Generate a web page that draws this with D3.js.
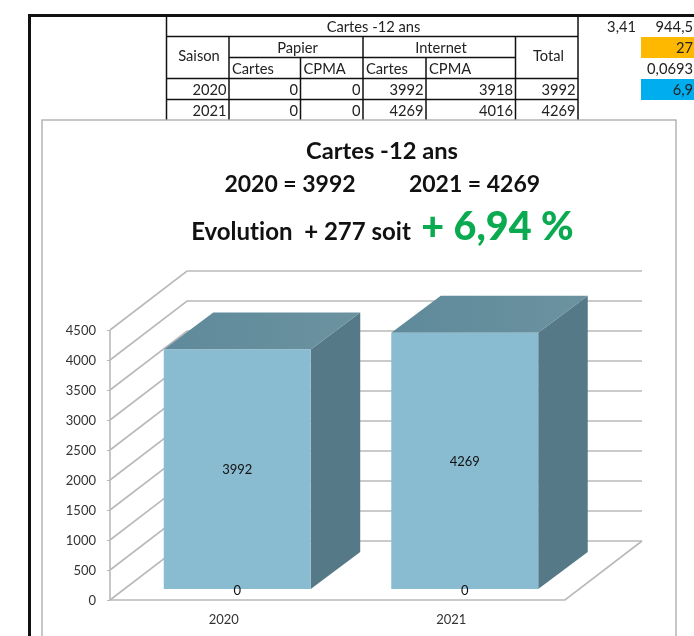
<!DOCTYPE html>
<html><head><meta charset="utf-8">
<script src="https://cdn.jsdelivr.net/npm/d3@7"></script>
<style>
html,body{margin:0;padding:0;background:#fff;overflow:hidden}
svg{display:block;filter:blur(0.45px)}
text{font-family:Lato,"Open Sans",sans-serif;font-variant-ligatures:none;white-space:pre}
</style></head><body>
<script>
const years = ["2020", "2021"];
const totals = [3992, 4269];
const zeroSeries = [0, 0];
const yTicks = [0, 500, 1000, 1500, 2000, 2500, 3000, 3500, 4000, 4500];
const tableRows = [
  ["2020", 0, 0, 3992, 3918, 3992],
  ["2021", 0, 0, 4269, 4016, 4269]
];
const sideValues = ["3,41", "944,5", "27", "0,0693", "6,9"];

const W = 694, H = 636;
const svg = d3.select("body").append("svg").attr("width", W).attr("height", H);

// ---- sheet frame & table
const black = "#111";
const colX = [166.5, 229, 300.5, 363, 426, 515.5, 578];
const rowY = [15.5, 36.5, 57.5, 78.5, 99.5, 120.5];
const line = (x1, y1, x2, y2, c = black, w = 1.5) => svg.append("line")
  .attr("x1", x1).attr("y1", y1).attr("x2", x2).attr("y2", y2).attr("stroke", c).attr("stroke-width", w);
const txt = (s, x, y, size, anchor = "middle", fill = "#222", weight = 400) => svg.append("text")
  .attr("x", x).attr("y", y).attr("font-size", size).attr("text-anchor", anchor)
  .attr("fill", fill).attr("font-weight", weight).text(s);

svg.append("rect").attr("x", 641).attr("y", 37).attr("width", 53).attr("height", 21).attr("fill", "#FFB800");
svg.append("rect").attr("x", 641).attr("y", 79).attr("width", 53).attr("height", 21).attr("fill", "#00AEEF");

line(28, 15.5, 694, 15.5, black, 2.8);
line(29.5, 14.5, 29.5, 636, black, 3);
line(colX[0], 15.5, colX[0], 120.5);
line(colX[6], 15.5, colX[6], 120.5);
[1, 3, 4].forEach(i => line(colX[0], rowY[i], colX[6], rowY[i]));
line(colX[1], rowY[2], colX[5], rowY[2]);
line(colX[1], rowY[1], colX[1], rowY[5]);
line(colX[5], rowY[1], colX[5], rowY[5]);
line(colX[3], rowY[1], colX[3], rowY[5]);
line(colX[2], rowY[2], colX[2], rowY[5]);
line(colX[4], rowY[2], colX[4], rowY[5]);

const fs = 14.7;
txt("Cartes -12 ans", 373.5, 32, fs);
txt("Saison", 199, 61, fs);
txt("Papier", 297.5, 52.5, fs);
txt("Internet", 441, 52.5, fs);
txt("Total", 548.5, 61, fs);
[[colX[1], "Cartes"], [colX[2], "CPMA"], [colX[3], "Cartes"], [colX[4], "CPMA"]]
  .forEach(d => txt(d[1], d[0] + 3, 73.5, fs, "start"));
tableRows.forEach((r, i) => r.forEach((v, j) =>
  txt(v, colX[j + 1] - 2.5, rowY[i + 3] + 16, fs, "end")));

txt(sideValues[0], 636, 32, fs, "end");
txt(sideValues[1], 693, 32, fs, "end");
txt(sideValues[2], 693, 53, fs, "end");
txt(sideValues[3], 693, 74, fs, "end");
txt(sideValues[4], 693, 95, fs, "end");

// ---- chart box
svg.append("rect").attr("x", 42).attr("y", 120).attr("width", 634).attr("height", 530)
  .attr("fill", "#fff").attr("stroke", "#a9a9a9").attr("stroke-width", 1.3);

txt("Cartes -12 ans", 382, 159, 23.7, "middle", "#111", 700);
txt("2020 = 3992", 290, 192, 23, "middle", "#111", 700);
txt("2021 = 4269", 474.5, 192, 23, "middle", "#111", 700);
txt("Evolution  + 277 soit", 301, 239.5, 24, "middle", "#111", 700);
txt("+ 6,94 %", 497.5, 240, 39.5, "middle", "#0AAB50", 900);

// ---- 3D column chart
const plot = {left: 110, right: 565, bottom: 600, top: 330};
const depth = {dx: 77, dy: -59};
const y = d3.scaleLinear().domain([0, 4500]).range([plot.bottom, plot.top]);
const x = d3.scaleBand().domain(years).range([plot.left, plot.right]);
const grid = "#b9b9b9";

const gridG = svg.append("g").attr("fill", "none").attr("stroke", grid).attr("stroke-width", 1.6);
const wallPath = d3.line();
yTicks.forEach(t => {
  gridG.append("path").attr("d", wallPath([
    [plot.left, y(t)],
    [plot.left + depth.dx, y(t) + depth.dy],
    [plot.right + depth.dx, y(t) + depth.dy]
  ]));
});
gridG.append("path").attr("d", wallPath([
  [plot.left, plot.bottom], [plot.right, plot.bottom], [plot.right + depth.dx, plot.bottom + depth.dy]
]));
gridG.append("path").attr("d", wallPath([[plot.left, y(4500)], [plot.left, y(0)]]));

const axis = svg.append("g").attr("transform", `translate(${plot.left},0)`)
  .call(d3.axisLeft(y).tickValues(yTicks).tickSize(3).tickPadding(11).tickFormat(d3.format("d")));
axis.select(".domain").remove();
axis.selectAll("line").attr("stroke", grid);
axis.selectAll("text").attr("font-size", 13).attr("fill", "#333");

const barW = x.bandwidth() * 0.646;
const bd = {dx: 49.5, dy: -37};
const floorY = 589;
const h = v => y(0) - y(v);
const barG = svg.append("g").selectAll("g").data(years.map((yr, i) => ({yr, v: totals[i], z: zeroSeries[i]})))
  .join("g");
const cx = d => x(d.yr) + x.bandwidth() / 2 + 13.5;
const poly = pts => "M" + pts.join("L") + "Z";
barG.each(function (d) {
  const g = d3.select(this);
  const l = cx(d) - barW / 2, r = cx(d) + barW / 2, t = floorY - h(d.v), b = floorY;
  g.append("path").attr("fill", "#557986").attr("d", poly([[r, t], [r + bd.dx, t + bd.dy], [r + bd.dx, b + bd.dy], [r, b]]));
  const gid = "top" + d.yr;
  const grad = svg.append("defs").append("linearGradient").attr("id", gid);
  grad.append("stop").attr("offset", 0).attr("stop-color", "#5f8a9b");
  grad.append("stop").attr("offset", 1).attr("stop-color", "#6b929f");
  g.append("path").attr("fill", `url(#${gid})`).attr("d", poly([[l, t], [l + bd.dx, t + bd.dy], [r + bd.dx, t + bd.dy], [r, t]]));
  g.append("rect").attr("x", l).attr("y", t).attr("width", barW).attr("height", b - t).attr("fill", "#89bbd1");
  g.append("text").attr("x", cx(d)).attr("y", (t + b) / 2 + 5).attr("text-anchor", "middle")
    .attr("font-size", 13).attr("fill", "#111").text(d.v);
  g.append("text").attr("x", cx(d)).attr("y", b + 6).attr("text-anchor", "middle")
    .attr("font-size", 13).attr("fill", "#111").text(d.z);
});

years.forEach(yr => txt(yr, x(yr) + x.bandwidth() / 2, 623.5, 13, "middle", "#333"));
</script>
</body></html>
